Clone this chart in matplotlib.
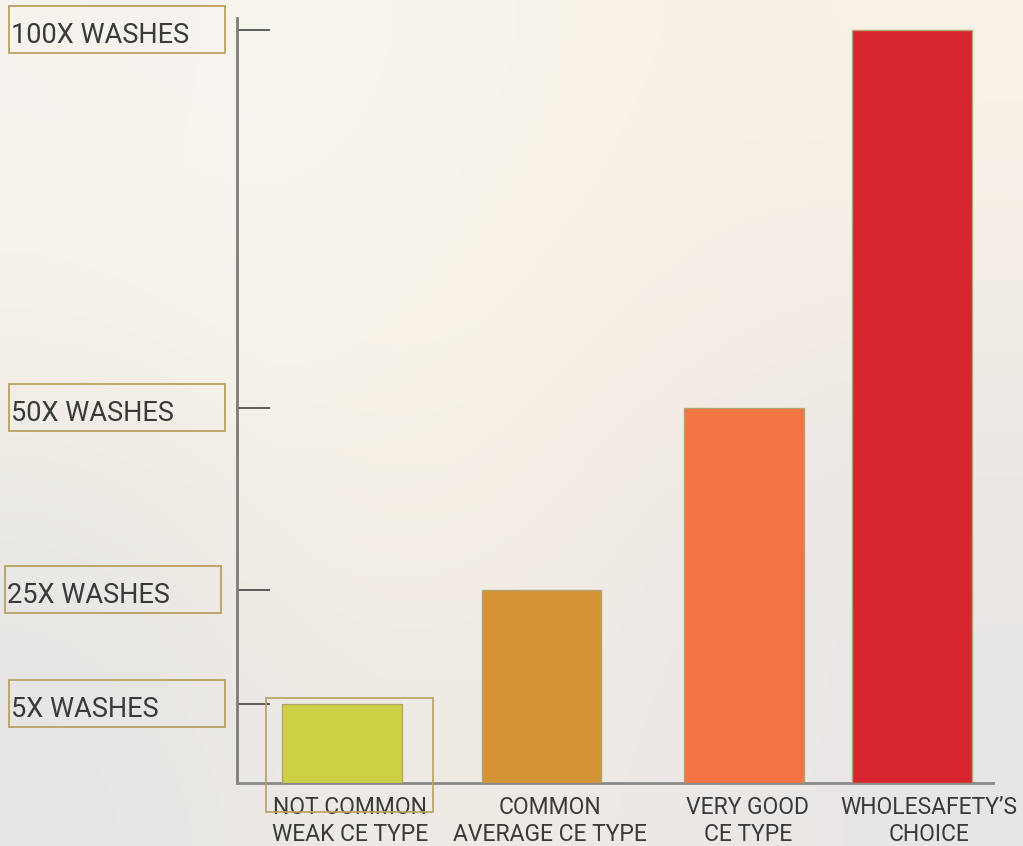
import numpy as np
import matplotlib
matplotlib.use("Agg")
import matplotlib.pyplot as plt
from matplotlib.patches import Rectangle
from matplotlib.colors import to_rgb

# Data
categories = ["NOT COMMON\nWEAK CE TYPE", "COMMON\nAVERAGE CE TYPE",
              "VERY GOOD\nCE TYPE", "WHOLESAFETY\u2019S\nCHOICE"]
washes = [5, 25, 50, 100]
tick_values = [100, 50, 25, 5]
tick_labels = ["100X WASHES", "50X WASHES", "25X WASHES", "5X WASHES"]
bar_colors = ["#cdd045", "#d39335", "#f37543", "#d7252f"]

# Layout (not data)
bar_pos = [0.0, 1.0, 2.015, 2.857]
label_pos = [0.04, 1.044, 2.035, 2.942]
box_left_px = [9, 9, 5, 9]

# the infographic's y axis is not linear: small values are stretched
knots = [0, 5, 25, 50, 100, 1000]
visual = [0, 10.5, 25.6, 49.8, 100, 1000]


def fwd(v):
    return np.interp(v, knots, visual)


def inv(v):
    return np.interp(v, visual, knots)


plt.rcParams["font.family"] = ["Roboto", "DejaVu Sans"]

W, H = 1023, 846
fig = plt.figure(figsize=(W / 100, H / 100), dpi=100)

# soft background imitating the blurred photo
bg_grid = [
    ["#f6f3ee", "#f8f5f0", "#f8f3ea", "#f7f0e6", "#f8f2e8"],
    ["#f7f2e8", "#f8f4ec", "#f8f1e5", "#f5eee6", "#f2ece6"],
    ["#eae8e4", "#f5efe5", "#f4eee6", "#eee8e5", "#ebe6e4"],
    ["#e5e5e5", "#ede9e4", "#f0eae5", "#ede8e6", "#e6e6e6"],
]
bg = np.array([[to_rgb(c) for c in row] for row in bg_grid])
bg_ax = fig.add_axes([0, 0, 1, 1])
bg_ax.imshow(bg, aspect="auto", interpolation="bicubic", extent=(0, 1, 0, 1))
bg_ax.axis("off")

ax = fig.add_axes([237 / W, (H - 783) / H, (993 - 237) / W, (783 - 18) / H])
ax.patch.set_alpha(0)
ax.set_yscale("function", functions=(fwd, inv))
ax.set_ylim(0, 101.6)
ax.set_xlim(-0.526, 3.263)

bars = ax.bar(bar_pos, washes, width=0.6, color=bar_colors,
              edgecolor="#b3a36e", linewidth=1, zorder=3)

for s in ["top", "right"]:
    ax.spines[s].set_visible(False)
ax.spines["left"].set_color("#7d7d7d")
ax.spines["left"].set_linewidth(2)
ax.spines["bottom"].set_color("#8a8a8a")
ax.spines["bottom"].set_linewidth(2)

ax.set_yticks(tick_values)
ax.set_yticklabels([])
ax.tick_params(axis="y", direction="in", length=23.5, width=1.2, color="#444444")
ax.yaxis.set_minor_locator(matplotlib.ticker.NullLocator())

ax.set_xticks(label_pos)
ax.set_xticklabels(categories, fontsize=16.5, color="#3a3a3a", linespacing=1.25)
ax.tick_params(axis="x", length=0, pad=9)

gold = "#b9a064"

# boxed labels beside the ticks
for v, lab, lx in zip(tick_values, tick_labels, box_left_px):
    ty = ax.transData.transform((0, v))[1]  # display y, pixels from bottom
    fig.add_artist(Rectangle((lx / W, (ty - 23) / H), 216 / W, 47 / H,
                             transform=fig.transFigure, fill=False,
                             edgecolor=gold, linewidth=1.3))
    fig.text((lx + 2) / W, (ty - 13) / H, lab, fontsize=19.5, color="#3a3a3a",
             ha="left", va="baseline")

# highlight frame around the first bar and its label
x0, y0 = ax.transData.transform((bar_pos[0] - 0.3, 0))
x1, y1 = ax.transData.transform((bar_pos[0] + 0.3, washes[0]))
fig.add_artist(Rectangle(((x0 - 16) / W, (y0 - 29) / H), (x1 - x0 + 47) / W,
                         (y1 - y0 + 35) / H, transform=fig.transFigure,
                         fill=False, edgecolor=gold, linewidth=1.2, zorder=5))

fig.savefig("out.png", dpi=100)
